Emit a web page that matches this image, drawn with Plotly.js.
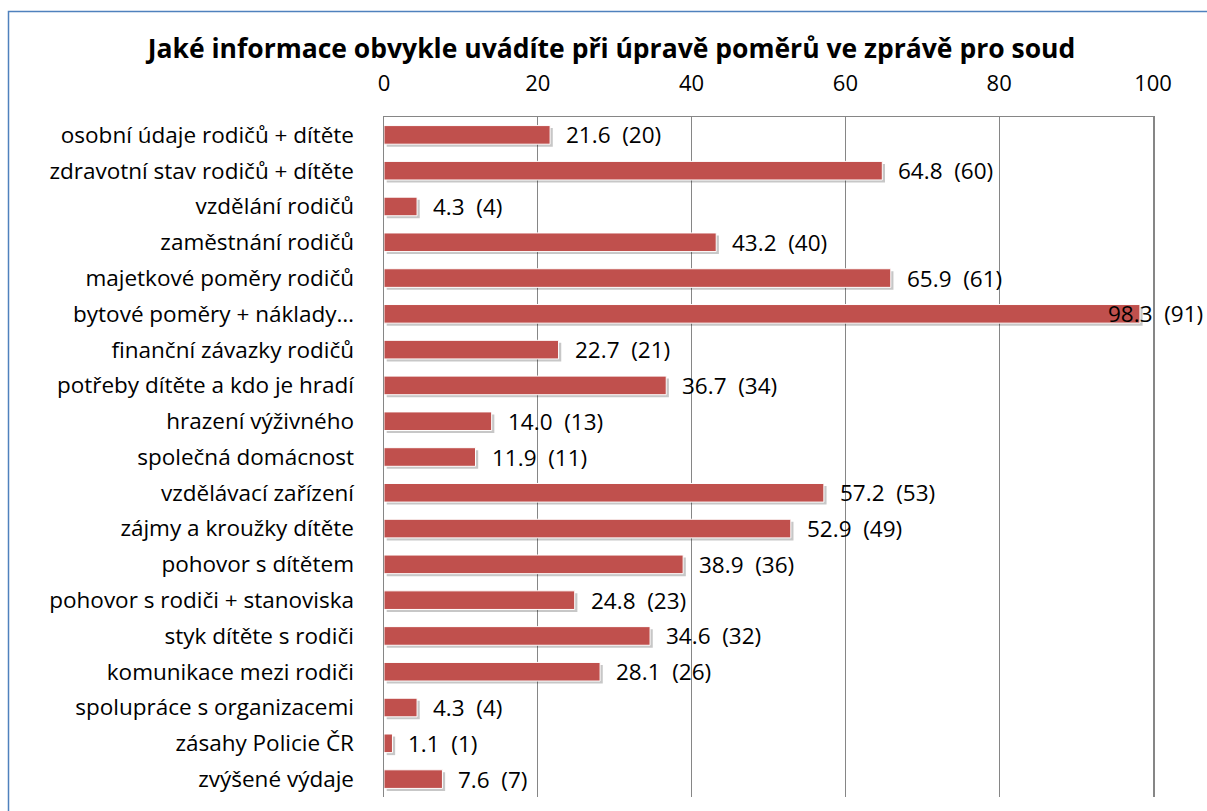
<!DOCTYPE html>
<html>
<head>
<meta charset="utf-8">
<script src="https://cdn.plot.ly/plotly-3.0.1.min.js"></script>
<style>
html,body{margin:0;padding:0;background:#fff;}
#chart{width:1207px;height:811px;}
</style>
</head>
<body>
<div id="chart"></div>
<script>
const categories = [
  "osobní údaje rodičů + dítěte",
  "zdravotní stav rodičů + dítěte",
  "vzdělání rodičů",
  "zaměstnání rodičů",
  "majetkové poměry rodičů",
  "bytové poměry + náklady…",
  "finanční závazky rodičů",
  "potřeby dítěte a kdo je hradí",
  "hrazení výživného",
  "společná domácnost",
  "vzdělávací zařízení",
  "zájmy a kroužky dítěte",
  "pohovor s dítětem",
  "pohovor s rodiči + stanoviska",
  "styk dítěte s rodiči",
  "komunikace mezi rodiči",
  "spolupráce s organizacemi",
  "zásahy Policie ČR",
  "zvýšené výdaje"
];
const percents = [21.6, 64.8, 4.3, 43.2, 65.9, 98.3, 22.7, 36.7, 14.0, 11.9, 57.2, 52.9, 38.9, 24.8, 34.6, 28.1, 4.3, 1.1, 7.6];
const counts = [20, 60, 4, 40, 61, 91, 21, 34, 13, 11, 53, 49, 36, 23, 32, 26, 4, 1, 7];
const tickValues = [0, 20, 40, 60, 80, 100];
const titleText = "Jaké informace obvykle uvádíte při úpravě poměrů ve zprávě pro soud";

const W = 1207, H = 811;
const mL = 384, mR = 54, mT = 117, mB = 14;
const plotW = W - mL - mR, plotH = H - mT - mB;
const FONT = "'Open Sans', sans-serif";
const NB = "\u00A0";

const barWidth = 0.52;

const shadow = {
  type: 'bar', orientation: 'h',
  y: categories, x: percents, base: 0.35,
  width: barWidth, offset: -barWidth/2 + 0.07,
  marker: {color: 'rgba(0,0,0,0.22)'},
  hoverinfo: 'skip', showlegend: false
};
const bars = {
  type: 'bar', orientation: 'h',
  y: categories, x: percents,
  width: barWidth, offset: -barWidth/2,
  marker: {color: '#C0504D', line: {color: '#ffffff', width: 1}},
  showlegend: false
};

const labelSize = 22.5;
const annotations = [];
percents.forEach((v, i) => {
  const txt = v.toFixed(1) + NB + NB + '(' + counts[i] + ')';
  const endPx = mL + v / 100 * plotW;
  const estW = txt.length * 11;
  if (endPx + 14 + estW > W - 2) {
    annotations.push({
      xref: 'paper', yref: 'y', x: (W - 2 - mL) / plotW, y: categories[i],
      xanchor: 'right', yanchor: 'middle', showarrow: false, text: txt,
      font: {family: FONT, size: labelSize, color: '#000'}
    });
  } else {
    annotations.push({
      xref: 'x', yref: 'y', x: v, y: categories[i], xshift: 14,
      xanchor: 'left', yanchor: 'middle', showarrow: false, text: txt,
      font: {family: FONT, size: labelSize, color: '#000'}
    });
  }
});

// chart frame (blue border)
const px2x = p => (p - mL) / plotW;
const px2y = p => (H - mB - p) / plotH;
const shapes = [
  {type: 'rect', xref: 'paper', yref: 'paper', x0: px2x(8.5), x1: px2x(1215), y0: px2y(830), y1: px2y(11.5),
   line: {color: '#4F81BD', width: 1.5}, fillcolor: 'rgba(0,0,0,0)', layer: 'above'}
];

const layout = {
  width: W, height: H,
  margin: {l: mL, r: mR, t: mT, b: mB, pad: 0},
  paper_bgcolor: '#fff', plot_bgcolor: '#fff',
  barmode: 'overlay',
  title: {
    text: '<b>' + titleText + '</b>',
    font: {family: FONT, size: 26.5, color: '#000'},
    x: 611.5 / W, xref: 'container', xanchor: 'center',
    y: 1 - 49 / H, yref: 'container', yanchor: 'middle'
  },
  xaxis: {
    side: 'top', range: [0, 100], tickvals: tickValues, ticktext: tickValues.map(String),
    showgrid: true, gridcolor: '#868686', gridwidth: 1.3,
    showline: true, linecolor: '#868686', linewidth: 1.5,
    zeroline: false, ticks: '', ticklabelstandoff: 16,
    tickfont: {family: FONT, size: 22, color: '#000'}, fixedrange: true
  },
  yaxis: {
    autorange: 'reversed', type: 'category',
    showline: true, mirror: true, linecolor: '#868686', linewidth: 1.5,
    showgrid: false, zeroline: false, ticks: '', ticklabelstandoff: 24,
    tickfont: {family: FONT, size: 22.5, color: '#000'}, fixedrange: true
  },
  annotations: annotations,
  shapes: shapes
};

Plotly.newPlot('chart', [shadow, bars], layout, {displayModeBar: false, staticPlot: true});
</script>
</body>
</html>
